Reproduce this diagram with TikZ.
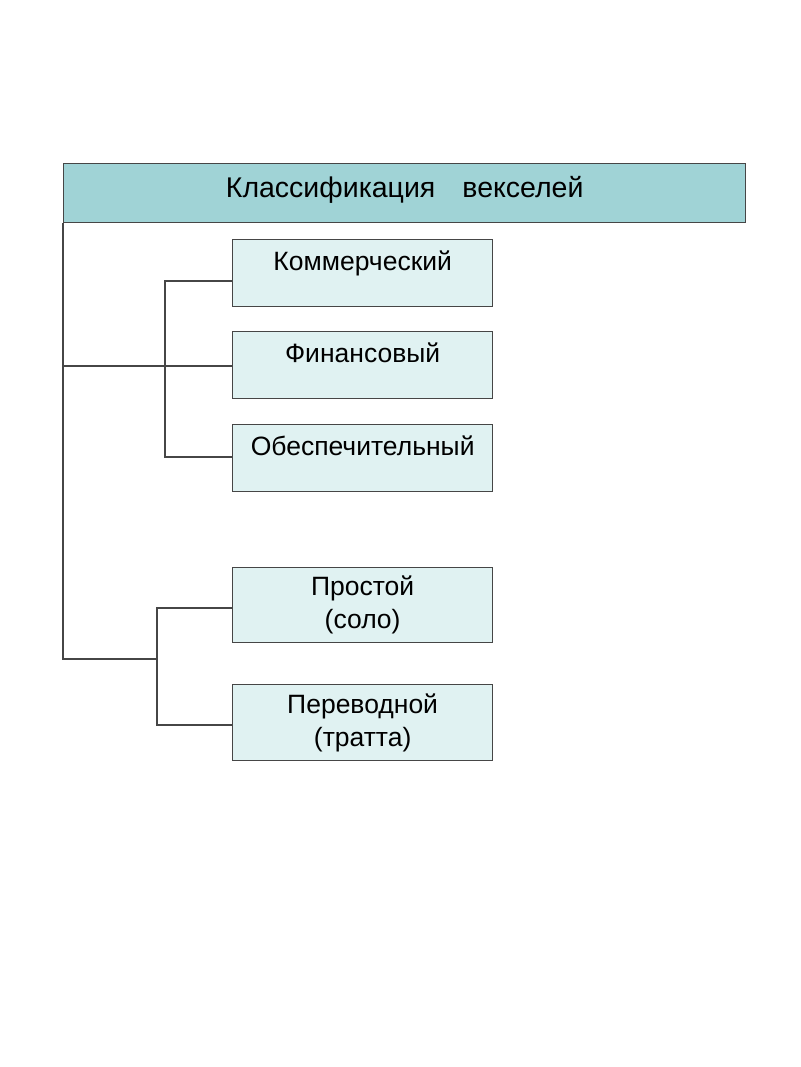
\documentclass[tikz,border=0pt]{standalone}
\usepackage{fontspec}
\setmainfont{Liberation Sans}
\usetikzlibrary{calc}
\definecolor{hdrcol}{RGB}{160,211,214}
\definecolor{boxcol}{RGB}{224,242,242}
\definecolor{linecol}{RGB}{70,70,70}

\begin{document}
\begin{tikzpicture}[x=1pt, y=-1pt,
  kind/.style={draw=linecol, line width=1.3pt, fill=boxcol, minimum width=260pt,
    inner xsep=0pt, font=\fontsize{26.5}{33}\selectfont, align=center, anchor=north west},
  oneline/.style={text height=19pt, text depth=25pt, inner ysep=11.5pt},
  twoline/.style={inner ysep=0pt},
  wire/.style={draw=linecol, line width=1.5pt}]
\useasboundingbox (0,0) rectangle (800,1067);
% header
\node[draw=linecol, line width=1.3pt, fill=hdrcol, minimum width=682pt, inner xsep=0pt,
  text height=20pt, text depth=11pt, inner ysep=14pt,
  font=\fontsize{28.5}{33}\selectfont, anchor=north west] (hdr) at (63,163)
  {Классификация\hspace{27pt}векселей};
% kinds of bills
\node[kind, oneline] (comm) at (232,239) {Коммерческий};
\node[kind, oneline] (fin) at (232,331) {Финансовый};
\node[kind, oneline] (sec) at (232,424) {Обеспечительный};
\node[kind, twoline, minimum height=75pt] (solo) at (232,567) {Простой\\(соло)};
\node[kind, twoline, minimum height=76pt] (trat) at (232,684) {Переводной\\(тратта)};
% junctions
\coordinate (ja) at (165,281);
\coordinate (jc) at (165,457);
\coordinate (jb) at (157,659);
\coordinate (jd) at (157,608);
\coordinate (je) at (157,725);
% connectors
\draw[wire] (hdr.south west) |- (jb);
\draw[wire] (hdr.south west |- 0,366) -- (fin.west |- 0,366);
\draw[wire] (ja -| comm.west) -- (ja) -- (jc) -- (jc -| sec.west);
\draw[wire] (jd -| solo.west) -- (jd) -- (je) -- (je -| trat.west);
\end{tikzpicture}
\end{document}
